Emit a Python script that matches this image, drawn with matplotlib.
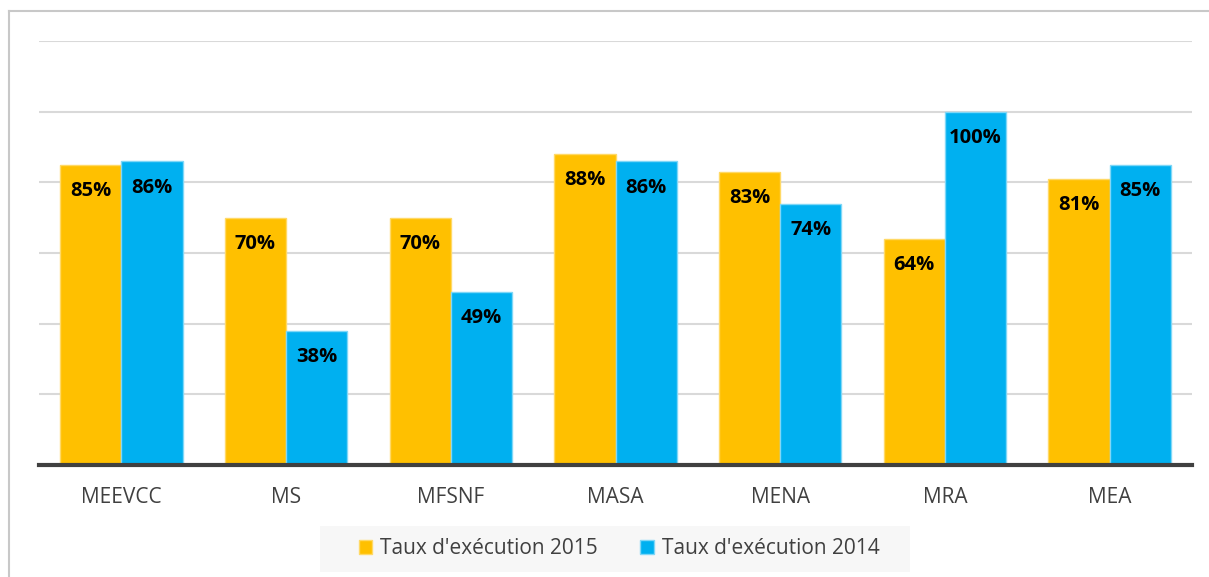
import matplotlib.pyplot as plt
import numpy as np
from matplotlib.lines import Line2D
from matplotlib.patches import Rectangle

categories = ['MEEVCC', 'MS', 'MFSNF', 'MASA', 'MENA', 'MRA', 'MEA']
taux_2015 = [85, 70, 70, 88, 83, 64, 81]
taux_2014 = [86, 38, 49, 86, 74, 100, 85]
gridlines = [20, 40, 60, 80, 100, 120]

plt.rcParams['font.family'] = ['Open Sans', 'DejaVu Sans']

W, H = 1209, 577
fig = plt.figure(figsize=(W / 100, H / 100), dpi=100)
ax = fig.add_axes([39 / W, 1 - 465 / H, 1153 / W, 424 / H])

x = np.arange(len(categories))
w = 0.372
b1 = ax.bar(x - w / 2, taux_2015, w, color='#FFC000', edgecolor='#FFD966',
            linewidth=1, label="Taux d'exécution 2015", zorder=3)
b2 = ax.bar(x + w / 2, taux_2014, w, color='#00B0F0', edgecolor='#7FD7F7',
            linewidth=1, label="Taux d'exécution 2014", zorder=3)

# etiquettes dans les barres
for bars, vals in [(b1, taux_2015), (b2, taux_2014)]:
    for rect, v in zip(bars, vals):
        ax.annotate(f'{v}%', (rect.get_x() + rect.get_width() / 2, v),
                    xytext=(0, -19), textcoords='offset points',
                    ha='center', va='center', fontsize=14.5,
                    fontweight='bold', color='black', zorder=4)

ax.set_xlim(-0.5, len(categories) - 0.5)
ax.set_ylim(0, 120)
ax.set_yticks(gridlines)
ax.yaxis.grid(True, color='#D9D9D9', linewidth=1.5, zorder=0)
ax.tick_params(axis='y', left=False, labelleft=False)
ax.set_xticks(x)
ax.set_xticklabels(categories, fontsize=15, color='#404040')
ax.tick_params(axis='x', length=0, pad=16)
for s in ['top', 'right', 'left']:
    ax.spines[s].set_visible(False)
ax.spines['bottom'].set_color('#404040')
ax.spines['bottom'].set_linewidth(3)
ax.spines['bottom'].set_zorder(5)

# fond de la legende
fig.add_artist(Rectangle((320 / W, 1 - 572 / H), 590 / W, 46 / H,
                         transform=fig.transFigure, facecolor='#F7F7F7',
                         edgecolor='none', zorder=1))
leg = fig.legend(handles=[b1, b2], loc='center', bbox_to_anchor=(619 / W, 1 - 549 / H),
                 ncol=2, frameon=False, fontsize=15, handlelength=0.67, handleheight=0.67,
                 handletextpad=0.38, columnspacing=2.0, borderpad=0.3)
leg.set_zorder(2)
for t in leg.get_texts():
    t.set_color('#404040')

# cadre du graphique
fig.add_artist(Line2D([9 / W, 9 / W], [0, 1 - 11 / H], color='#C8C8C8', linewidth=1.5))
fig.add_artist(Line2D([9 / W, 1], [1 - 11 / H, 1 - 11 / H], color='#C8C8C8', linewidth=1.5))

fig.savefig('out.png', dpi=100, facecolor='white')
